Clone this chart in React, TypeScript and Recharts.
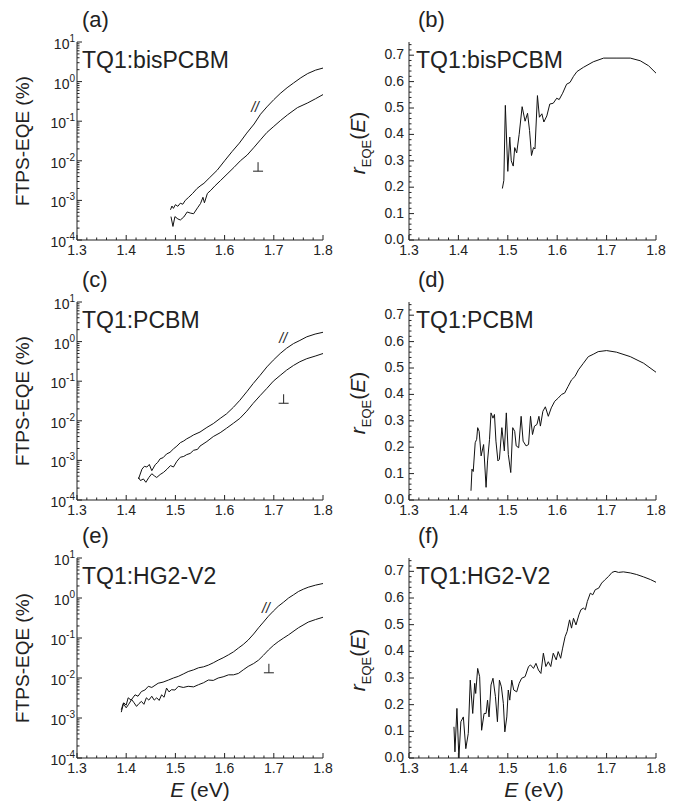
import React from 'react'
import { LineChart, Line, XAxis, YAxis, ReferenceDot } from 'recharts'

type Pt = [number, number]

// axis ticks
const energyMajor = [1.3, 1.4, 1.5, 1.6, 1.7, 1.8]
const decades = [-4, -3, -2, -1, 0, 1]
const ratioMajor = [0, 0.1, 0.2, 0.3, 0.4, 0.5, 0.6, 0.7]

const panelLetters = ['(a)', '(b)', '(c)', '(d)', '(e)', '(f)']
const blends = ['TQ1:bisPCBM', 'TQ1:PCBM', 'TQ1:HG2-V2']

// FTPS-EQE (%), [E (eV), EQE] -- parallel (//) and perpendicular (⊥)
const bisPar: Pt[] = [
  [1.49, 5.8e-4], [1.493, 7.2e-4], [1.496, 6.3e-4], [1.5, 7.8e-4], [1.505, 7.1e-4],
  [1.51, 8.5e-4], [1.515, 8.0e-4], [1.52, 1.0e-3], [1.527, 1.2e-3], [1.535, 1.5e-3],
  [1.544, 2.0e-3], [1.552, 2.4e-3], [1.558, 2.7e-3], [1.57, 3.8e-3], [1.585, 5.8e-3],
  [1.6, 1.0e-2], [1.615, 1.7e-2], [1.63, 2.8e-2], [1.645, 5.0e-2], [1.66, 0.085],
  [1.673, 0.15], [1.686, 0.23], [1.7, 0.35], [1.713, 0.5], [1.727, 0.7],
  [1.74, 0.92], [1.755, 1.25], [1.769, 1.6], [1.785, 1.95], [1.8, 2.2],
]
const bisPerp: Pt[] = [
  [1.491, 3.9e-4], [1.495, 2.2e-4], [1.499, 3.9e-4], [1.505, 3.4e-4], [1.51, 3.2e-4],
  [1.517, 3.8e-4], [1.524, 5.1e-4], [1.53, 4.8e-4], [1.537, 4.6e-4], [1.545, 6.5e-4],
  [1.551, 8.3e-4], [1.556, 1.2e-3], [1.559, 8.7e-4], [1.565, 1.5e-3], [1.572, 1.8e-3],
  [1.58, 2.3e-3], [1.592, 3.2e-3], [1.605, 4.6e-3], [1.619, 6.8e-3], [1.632, 1.0e-2],
  [1.646, 1.4e-2], [1.66, 2.2e-2], [1.673, 3.4e-2], [1.686, 5.2e-2], [1.7, 7.4e-2],
  [1.714, 0.105], [1.728, 0.145], [1.748, 0.22], [1.769, 0.29], [1.785, 0.37], [1.8, 0.47],
]
const pcbmPar: Pt[] = [
  [1.425, 3.4e-4], [1.432, 6.0e-4], [1.437, 7.1e-4], [1.442, 6.8e-4], [1.447, 7.9e-4],
  [1.452, 5.5e-4], [1.459, 7.8e-4], [1.464, 8.9e-4], [1.469, 1.1e-3], [1.475, 1.17e-3],
  [1.482, 1.45e-3], [1.489, 1.6e-3], [1.496, 1.95e-3], [1.503, 2.3e-3], [1.51, 2.8e-3],
  [1.517, 3.1e-3], [1.523, 3.5e-3], [1.53, 3.9e-3], [1.537, 4.4e-3], [1.55, 5.2e-3],
  [1.564, 6.8e-3], [1.577, 8.5e-3], [1.591, 1.15e-2], [1.604, 1.5e-2], [1.618, 2.2e-2],
  [1.631, 3.3e-2], [1.645, 5.4e-2], [1.658, 8.7e-2], [1.672, 0.14], [1.686, 0.23],
  [1.699, 0.34], [1.713, 0.5], [1.726, 0.68], [1.74, 0.89], [1.753, 1.07],
  [1.767, 1.32], [1.784, 1.55], [1.8, 1.72],
]
const pcbmPerp: Pt[] = [
  [1.425, 3.7e-4], [1.429, 3.1e-4], [1.435, 3.4e-4], [1.44, 2.8e-4], [1.446, 3.7e-4],
  [1.452, 4.6e-4], [1.458, 4.0e-4], [1.462, 3.7e-4], [1.469, 4.4e-4], [1.476, 5.0e-4],
  [1.483, 6.0e-4], [1.49, 7.4e-4], [1.496, 6.8e-4], [1.503, 9.5e-4], [1.51, 1.2e-3],
  [1.517, 1.26e-3], [1.523, 1.4e-3], [1.53, 1.5e-3], [1.537, 1.8e-3], [1.545, 1.9e-3],
  [1.55, 2.3e-3], [1.564, 3.0e-3], [1.577, 4.0e-3], [1.591, 5.0e-3], [1.604, 6.5e-3],
  [1.618, 8.7e-3], [1.631, 1.15e-2], [1.645, 1.75e-2], [1.658, 2.75e-2], [1.672, 4.3e-2],
  [1.686, 6.6e-2], [1.699, 0.1], [1.713, 0.14], [1.726, 0.19], [1.74, 0.25],
  [1.753, 0.31], [1.767, 0.37], [1.784, 0.43], [1.8, 0.5],
]
const hgPar: Pt[] = [
  [1.39, 1.4e-3], [1.395, 2.4e-3], [1.4, 2.1e-3], [1.404, 3.2e-3], [1.41, 2.8e-3],
  [1.418, 3.8e-3], [1.424, 3.5e-3], [1.431, 4.6e-3], [1.438, 5.0e-3], [1.445, 6.2e-3],
  [1.452, 5.8e-3], [1.465, 7.4e-3], [1.475, 7.9e-3], [1.486, 8.9e-3], [1.496, 1.0e-2],
  [1.506, 1.1e-2], [1.516, 1.26e-2], [1.526, 1.45e-2], [1.537, 1.6e-2], [1.547, 1.8e-2],
  [1.557, 1.9e-2], [1.567, 2.1e-2], [1.577, 2.4e-2], [1.587, 2.8e-2], [1.597, 3.2e-2],
  [1.608, 3.8e-2], [1.618, 4.5e-2], [1.628, 5.6e-2], [1.638, 6.9e-2], [1.648, 8.9e-2],
  [1.659, 0.126], [1.669, 0.18], [1.679, 0.25], [1.689, 0.35], [1.699, 0.47],
  [1.709, 0.62], [1.72, 0.79], [1.73, 1.0], [1.74, 1.2], [1.75, 1.45], [1.76, 1.66],
  [1.77, 1.86], [1.785, 2.1], [1.8, 2.3],
]
const hgPerp: Pt[] = [
  [1.39, 1.6e-3], [1.394, 2.3e-3], [1.4, 1.8e-3], [1.405, 2.2e-3], [1.411, 2.9e-3],
  [1.416, 2.4e-3], [1.421, 1.95e-3], [1.426, 2.3e-3], [1.431, 2.6e-3], [1.436, 2.2e-3],
  [1.441, 3.2e-3], [1.446, 2.8e-3], [1.452, 3.5e-3], [1.457, 2.8e-3], [1.462, 3.2e-3],
  [1.467, 2.75e-3], [1.472, 3.8e-3], [1.477, 3.3e-3], [1.482, 5.6e-3], [1.487, 4.5e-3],
  [1.492, 5.1e-3], [1.499, 5.0e-3], [1.506, 6.2e-3], [1.516, 5.8e-3], [1.526, 6.2e-3],
  [1.537, 6.0e-3], [1.547, 6.8e-3], [1.557, 7.6e-3], [1.567, 8.9e-3], [1.577, 8.7e-3],
  [1.587, 1.0e-2], [1.597, 1.07e-2], [1.608, 1.2e-2], [1.618, 1.2e-2], [1.628, 1.3e-2],
  [1.638, 1.6e-2], [1.648, 1.95e-2], [1.659, 2.3e-2], [1.669, 2.8e-2], [1.679, 3.7e-2],
  [1.689, 5.0e-2], [1.699, 6.5e-2], [1.709, 8.1e-2], [1.72, 0.1], [1.73, 0.12],
  [1.75, 0.18], [1.77, 0.25], [1.785, 0.29], [1.8, 0.33],
]

// r_EQE(E), [E (eV), r]
const bisRatio: Pt[] = [
  [1.489, 0.195], [1.492, 0.226], [1.495, 0.51], [1.5, 0.26], [1.504, 0.39], [1.507, 0.3],
  [1.511, 0.28], [1.514, 0.35], [1.518, 0.33], [1.523, 0.4], [1.529, 0.505], [1.535, 0.45],
  [1.54, 0.48], [1.544, 0.415], [1.548, 0.32], [1.552, 0.35], [1.555, 0.345], [1.56, 0.547],
  [1.564, 0.465], [1.569, 0.478], [1.573, 0.447], [1.579, 0.47], [1.585, 0.515], [1.592, 0.518],
  [1.599, 0.537], [1.604, 0.532], [1.611, 0.556], [1.619, 0.59], [1.626, 0.597], [1.633, 0.62],
  [1.64, 0.638], [1.653, 0.654], [1.673, 0.675], [1.694, 0.689], [1.721, 0.689], [1.748, 0.689],
  [1.768, 0.679], [1.785, 0.66], [1.8, 0.632],
]
const pcbmRatio: Pt[] = [
  [1.4255, 0.035], [1.4275, 0.117], [1.43, 0.108], [1.434, 0.217], [1.437, 0.23], [1.439, 0.274],
  [1.442, 0.26], [1.446, 0.167], [1.451, 0.21], [1.456, 0.048], [1.459, 0.148], [1.463, 0.23],
  [1.466, 0.33], [1.47, 0.31], [1.473, 0.324], [1.476, 0.223], [1.48, 0.148], [1.483, 0.154],
  [1.488, 0.274], [1.493, 0.186], [1.497, 0.33], [1.501, 0.173], [1.506, 0.104], [1.51, 0.274],
  [1.514, 0.26], [1.517, 0.205], [1.522, 0.198], [1.527, 0.317], [1.531, 0.223], [1.537, 0.205],
  [1.542, 0.21], [1.546, 0.317], [1.55, 0.248], [1.554, 0.28], [1.559, 0.286], [1.563, 0.317],
  [1.566, 0.28], [1.571, 0.336], [1.576, 0.353], [1.582, 0.317], [1.588, 0.349], [1.595, 0.374],
  [1.602, 0.386], [1.609, 0.4], [1.615, 0.405], [1.622, 0.43], [1.629, 0.455], [1.636, 0.468],
  [1.643, 0.493], [1.653, 0.518], [1.663, 0.543], [1.673, 0.552], [1.683, 0.562], [1.7, 0.566],
  [1.72, 0.56], [1.748, 0.543], [1.775, 0.518], [1.8, 0.484],
]
const hgRatio: Pt[] = [
  [1.391, 0.117], [1.393, 0.023], [1.397, 0.186], [1.401, 0.0], [1.405, 0.136], [1.41, 0.154],
  [1.415, 0.035], [1.42, 0.092], [1.424, 0.292], [1.429, 0.167], [1.433, 0.28], [1.435, 0.242],
  [1.439, 0.336], [1.443, 0.305], [1.447, 0.104], [1.452, 0.167], [1.456, 0.167], [1.459, 0.217],
  [1.462, 0.154], [1.466, 0.274], [1.47, 0.299], [1.475, 0.23], [1.479, 0.136], [1.483, 0.292],
  [1.487, 0.267], [1.491, 0.205], [1.494, 0.098], [1.498, 0.154], [1.501, 0.255], [1.504, 0.217],
  [1.508, 0.292], [1.512, 0.255], [1.518, 0.248], [1.523, 0.28], [1.528, 0.299], [1.535, 0.305],
  [1.542, 0.343], [1.546, 0.349], [1.552, 0.336], [1.557, 0.355], [1.562, 0.33], [1.567, 0.317],
  [1.572, 0.393], [1.577, 0.343], [1.582, 0.361], [1.587, 0.343], [1.592, 0.393], [1.598, 0.368],
  [1.602, 0.399], [1.607, 0.374], [1.611, 0.412], [1.616, 0.455], [1.62, 0.474], [1.625, 0.518],
  [1.629, 0.487], [1.633, 0.524], [1.638, 0.499], [1.644, 0.537], [1.648, 0.556], [1.653, 0.562],
  [1.657, 0.556], [1.661, 0.587], [1.667, 0.618], [1.672, 0.612], [1.677, 0.631], [1.684, 0.637],
  [1.69, 0.656], [1.697, 0.669], [1.704, 0.681], [1.711, 0.696], [1.717, 0.7], [1.724, 0.696],
  [1.734, 0.698], [1.748, 0.694], [1.761, 0.688], [1.775, 0.679], [1.789, 0.669], [1.8, 0.659],
]

// label positions for the // and ⊥ marks, [E, EQE]
const parMarks: Pt[] = [[1.662, 0.23], [1.719, 1.2], [1.684, 0.55]]
const perpMarks: Pt[] = [[1.668, 6.9e-3], [1.72, 3.5e-2], [1.69, 1.7e-2]]

const FONT = '"Liberation Sans", Arial, Helvetica, sans-serif'
const INK = '#222'

const rows = (pts: Pt[]) => pts.map(([e, v]) => ({ e, v }))

const near = (a: number, b: number) => Math.abs(a - b) < 1e-6
const xTicks = Array.from({ length: 26 }, (_, i) => +(1.3 + i * 0.02).toFixed(2))
const rTicks = Array.from({ length: 38 }, (_, i) => +(i * 0.02).toFixed(2))
const logTicks = decades.flatMap((d) =>
  d === 1 ? [10] : [1, 2, 3, 4, 5, 6, 7, 8, 9].map((m) => +(m * Math.pow(10, d)).toPrecision(3))
)
const isTenth = (v: number) => ratioMajor.concat(energyMajor).some((m) => near(m, v))
const isDecade = (v: number) => near(Math.log10(v), Math.round(Math.log10(v)))

type Side = 'left' | 'right' | 'top' | 'bottom'

function makeTick(side: Side, isMajor: (v: number) => boolean, label?: (v: number, x: number, y: number) => React.ReactNode) {
  return (props: any) => {
    const { x, y, payload } = props
    const v = payload.value as number
    const major = isMajor(v)
    const len = major ? 5 : 2.5
    let ln: Pt[] = [[x, y], [x, y]]
    if (side === 'left') ln = [[x, y], [x + len, y]]
    if (side === 'right') ln = [[x, y], [x - len, y]]
    if (side === 'top') ln = [[x, y], [x, y + len]]
    if (side === 'bottom') ln = [[x, y], [x, y - len]]
    return (
      <g>
        <line x1={ln[0][0]} y1={ln[0][1]} x2={ln[1][0]} y2={ln[1][1]} stroke={INK} strokeWidth={1} />
        {major && label ? label(v, x, y) : null}
      </g>
    )
  }
}

const energyLabel = (v: number, x: number, y: number) => (
  <text x={x} y={y + 14.5} textAnchor="middle" fontSize={14} fill={INK} fontFamily={FONT}>
    {v.toFixed(1)}
  </text>
)
const logLabel = (v: number, x: number, y: number) => (
  <text x={x - 2} y={y + 7} textAnchor="end" fontSize={14} fill={INK} fontFamily={FONT}>
    10<tspan dy={-7} fontSize={10}>{Math.round(Math.log10(v))}</tspan>
  </text>
)
const ratioLabel = (v: number, x: number, y: number) => (
  <text x={x - 5} y={y + 4} textAnchor="end" fontSize={14} fill={INK} fontFamily={FONT}>
    {v.toFixed(1)}
  </text>
)

// "//" drawn as text, "⊥" drawn as two strokes at the dot position
const parShape = (p: any) => (
  <text x={p.cx} y={p.cy + 5} textAnchor="middle" fontSize={14} fontStyle="italic" fill={INK} fontFamily={FONT}>//</text>
)
const perpShape = (p: any) => (
  <g stroke={INK} strokeWidth={1}>
    <line x1={p.cx - 5} x2={p.cx + 5} y1={p.cy + 4} y2={p.cy + 4} />
    <line x1={p.cx} x2={p.cx} y1={p.cy - 5} y2={p.cy + 4} />
  </g>
)

const plotTops = [42, 302, 558]
const plotHeights = [198, 198, 200]

function Panel({ row, ratio }: { row: number; ratio: boolean }) {
  const left = !ratio
  const h = plotHeights[row]
  const yW = left ? 77 : 69
  const mr = left ? 17 : 24
  const domain: [number, number] = ratio ? [0, 0.75] : [1e-4, 10]
  const yTicks = ratio ? rTicks : logTicks
  const yMajor = ratio ? isTenth : isDecade
  const scale = ratio ? 'linear' : 'log'
  const series = ratio
    ? [[bisRatio], [pcbmRatio], [hgRatio]][row]
    : [[bisPar, bisPerp], [pcbmPar, pcbmPerp], [hgPar, hgPerp]][row]

  return (
    <div style={{ position: 'absolute', left: left ? 0 : 340, top: plotTops[row] - 10 }}>
      <LineChart width={340} height={10 + h + 30} margin={{ top: 10, right: mr, bottom: 0, left: 0 }}>
        <XAxis
          dataKey="e" type="number" domain={[1.3, 1.8]} allowDataOverflow ticks={xTicks} interval={0}
          height={30} tickSize={0} tickMargin={0} tickLine={false} axisLine={{ stroke: INK }}
          tick={makeTick('bottom', isTenth, energyLabel)}
        />
        <XAxis
          xAxisId="top" orientation="top" dataKey="e" type="number" domain={[1.3, 1.8]} allowDataOverflow
          ticks={xTicks} interval={0} height={0} tickSize={0} tickMargin={0} tickLine={false}
          axisLine={{ stroke: INK }} tick={makeTick('top', isTenth)}
        />
        <YAxis
          type="number" scale={scale} domain={domain} allowDataOverflow ticks={yTicks} interval={0}
          width={yW} tickSize={0} tickMargin={0} tickLine={false} axisLine={{ stroke: INK }}
          tick={makeTick('left', yMajor, ratio ? ratioLabel : logLabel)}
        />
        <YAxis
          yAxisId="right" orientation="right" type="number" scale={scale} domain={domain} allowDataOverflow
          ticks={yTicks} interval={0} width={0} tickSize={0} tickMargin={0} tickLine={false}
          axisLine={{ stroke: INK }} tick={makeTick('right', yMajor)}
        />
        {series.map((s, i) => (
          <Line
            key={i} data={rows(s)} dataKey="v" type="linear" stroke="#111" strokeWidth={1}
            dot={false} isAnimationActive={false}
          />
        ))}
        {!ratio && <ReferenceDot x={parMarks[row][0]} y={parMarks[row][1]} r={0} shape={parShape} />}
        {!ratio && <ReferenceDot x={perpMarks[row][0]} y={perpMarks[row][1]} r={0} shape={perpShape} />}
      </LineChart>
    </div>
  )
}

export default function App() {
  return (
    <div style={{ position: 'absolute', left: 0, top: 0, width: 679, height: 809, background: '#fff', fontFamily: FONT }}>
      {[0, 1, 2].map((row) => (
        <React.Fragment key={row}>
          <Panel row={row} ratio={false} />
          <Panel row={row} ratio={true} />
        </React.Fragment>
      ))}
      <svg width={679} height={809} style={{ position: 'absolute', left: 0, top: 0, pointerEvents: 'none' }} fontFamily={FONT} fill={INK}>
        {[0, 1, 2].map((row) => {
          const top = plotTops[row]
          const cy = top + plotHeights[row] / 2
          return (
            <g key={row}>
              <text x={82} y={top - 15} fontSize={22}>{panelLetters[row * 2]}</text>
              <text x={418} y={top - 15} fontSize={22}>{panelLetters[row * 2 + 1]}</text>
              <text x={82} y={top + 26} fontSize={23}>{blends[row]}</text>
              <text x={416} y={top + 26} fontSize={23}>{blends[row]}</text>
              <text transform={`translate(29,${cy}) rotate(-90)`} textAnchor="middle" fontSize={19}>FTPS-EQE (%)</text>
              <text transform={`translate(365,${cy + 2}) rotate(-90)`} textAnchor="middle" fontSize={21}>
                <tspan fontStyle="italic">r</tspan>
                <tspan fontSize={13} dy={6}>EQE</tspan>
                <tspan dy={-6}>(</tspan>
                <tspan fontStyle="italic">E</tspan>
                <tspan>)</tspan>
              </text>
            </g>
          )
        })}
        <text x={200} y={797} textAnchor="middle" fontSize={21}>
          <tspan fontStyle="italic">E</tspan> (eV)
        </text>
        <text x={534} y={797} textAnchor="middle" fontSize={21}>
          <tspan fontStyle="italic">E</tspan> (eV)
        </text>
      </svg>
    </div>
  )
}
